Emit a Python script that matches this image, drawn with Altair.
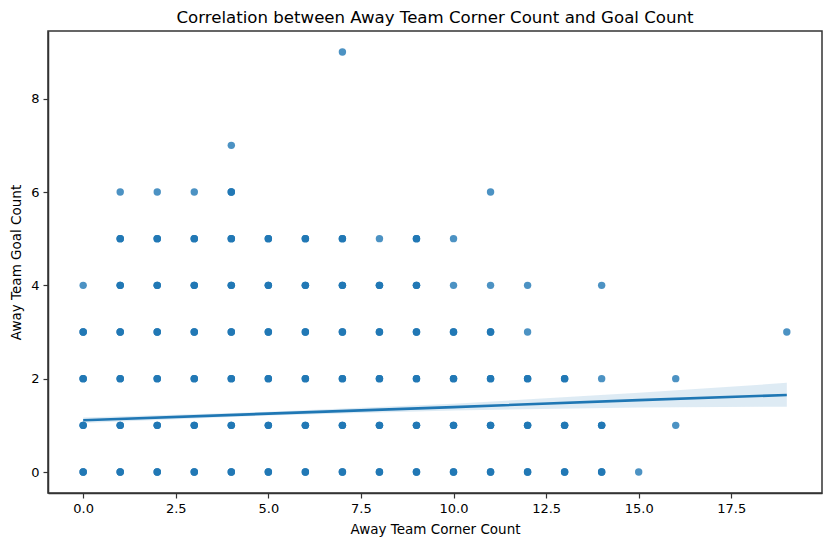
import altair as alt
import pandas as pd

# Points present at each goal count (x = away corner count)
goals_levels = [9, 7, 6, 5, 4, 3, 2, 1, 0]
corners_at_9 = [7]
corners_at_7 = [4]
corners_at_6 = [1, 2, 3, 4, 11]
corners_at_5 = [1, 2, 3, 4, 5, 6, 7, 8, 9, 10]
corners_at_4 = [0, 1, 2, 3, 4, 5, 6, 7, 8, 9, 10, 11, 12, 14]
corners_at_3 = [0, 1, 2, 3, 4, 5, 6, 7, 8, 9, 10, 11, 12, 19]
corners_at_2 = [0, 1, 2, 3, 4, 5, 6, 7, 8, 9, 10, 11, 12, 13, 14, 16]
corners_at_1 = [0, 1, 2, 3, 4, 5, 6, 7, 8, 9, 10, 11, 12, 13, 14, 16]
corners_at_0 = [0, 1, 2, 3, 4, 5, 6, 7, 8, 9, 10, 11, 12, 13, 14, 15]

# Points that appear lighter (single observation)
single_points = [(7, 9), (4, 7), (1, 6), (2, 6), (3, 6), (11, 6), (8, 5), (10, 5),
                 (0, 4), (10, 4), (11, 4), (12, 4), (14, 4), (12, 3), (19, 3),
                 (14, 2), (16, 2), (16, 1), (15, 0)]

# Regression fit and confidence band
fit_x = [0, 5, 10, 15, 19]
fit_y = [1.11, 1.25, 1.39, 1.54, 1.65]
fit_lo = [1.05, 1.21, 1.32, 1.38, 1.40]
fit_hi = [1.17, 1.29, 1.46, 1.70, 1.91]

rows = []
for g, xs in zip(goals_levels, [corners_at_9, corners_at_7, corners_at_6, corners_at_5,
                                corners_at_4, corners_at_3, corners_at_2, corners_at_1,
                                corners_at_0]):
    for c in xs:
        n = 1 if (c, g) in single_points else 3
        for _ in range(n):
            rows.append({"corners": c, "goals": g})
pts = pd.DataFrame(rows)
fit = pd.DataFrame({"x": fit_x, "y": fit_y, "lo": fit_lo, "hi": fit_hi})

FONT = "DejaVu Sans"
xs = alt.Scale(domain=[-0.95, 19.95], nice=False, zero=False)
ys = alt.Scale(domain=[-0.45, 9.45], nice=False, zero=False)

xaxis = alt.Axis(values=[0, 2.5, 5, 7.5, 10, 12.5, 15, 17.5], format=".1f",
                 title="Away Team Corner Count", grid=False)
yaxis = alt.Axis(values=[0, 2, 4, 6, 8], format="d",
                 title="Away Team Goal Count", grid=False)

points = alt.Chart(pts).mark_circle(size=55, opacity=0.8, color="#1f77b4").encode(
    x=alt.X("corners:Q", scale=xs, axis=xaxis),
    y=alt.Y("goals:Q", scale=ys, axis=yaxis),
)

band = alt.Chart(fit).mark_area(color="#1f77b4", opacity=0.15).encode(
    x=alt.X("x:Q", scale=xs),
    y=alt.Y("lo:Q", scale=ys),
    y2="hi:Q",
)

line = alt.Chart(fit).mark_line(color="#1f77b4", strokeWidth=2.6).encode(
    x=alt.X("x:Q", scale=xs),
    y=alt.Y("y:Q", scale=ys),
)

chart = (band + points + line).properties(
    width=774,
    height=462,
    title=alt.TitleParams("Correlation between Away Team Corner Count and Goal Count",
                          font=FONT, fontSize=16.6, fontWeight="normal", color="black",
                          offset=4),
    autosize=alt.AutoSizeParams(type="none"),
    padding={"left": 40, "top": 23, "right": 3, "bottom": 45},
).configure_view(
    stroke="#333333", strokeWidth=1.5
).configure_axis(
    labelFont=FONT, titleFont=FONT, labelFontSize=13, titleFontSize=13.5,
    titleFontWeight="normal", labelColor="black", titleColor="black",
    domainColor="#333333", domainWidth=1.5, tickColor="#333333", tickSize=5,
    tickWidth=1.2, labelPadding=4,
).configure_axisX(titlePadding=7).configure_axisY(titlePadding=7)

chart.save("out.html", embed_options={"renderer": "svg", "actions": False})
